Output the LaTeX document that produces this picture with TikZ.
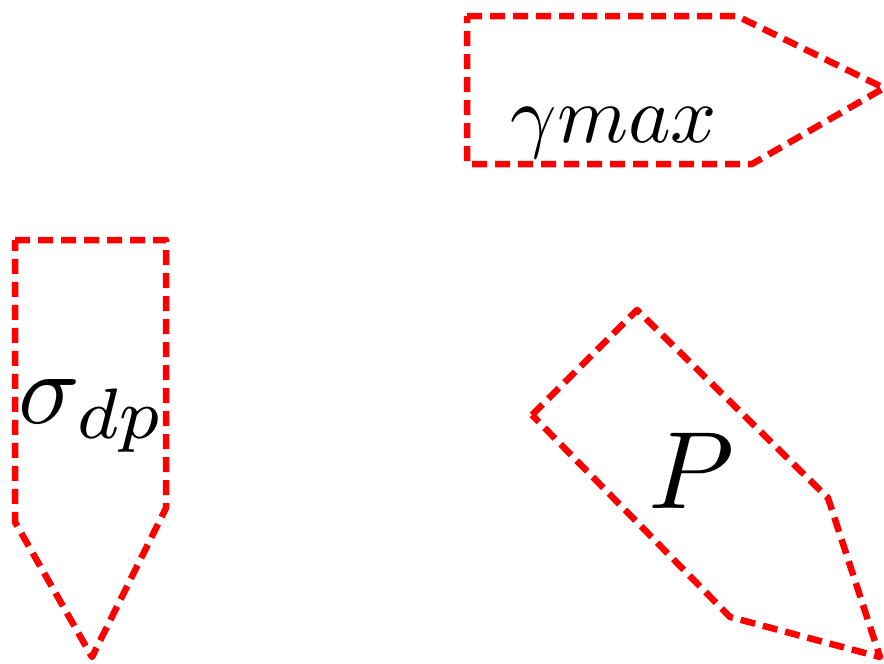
\documentclass[tikz,border=0pt]{standalone}
\begin{document}
\begin{tikzpicture}[x=1pt,y=-1pt,
  outline/.style={draw=red,line width=6.5pt,dash pattern=on 15pt off 8pt,line join=round},
  lbl/.style={inner sep=0pt,anchor=base}]
\useasboundingbox (0,0) rectangle (884,664);
% top right
\draw[outline] (467,16) -- (737,16) -- (884,88) -- (752,164) -- (467,164) -- cycle;
\node[lbl] (gm) at (614,142) {\scalebox{8.1}{$\gamma max$}};
% left
\draw[outline] (15,240) -- (166,240) -- (166,508) -- (92,657) -- (15,522) -- cycle;
\node[lbl,anchor=base west] (sd) at (18,423) {\scalebox{10.2}{$\sigma_{dp}$}};
% bottom right
\draw[outline] (532,415) -- (637,310) -- (828,498) -- (880,657) -- (730,617) -- cycle;
\node[lbl] (p) at (691,508) {\scalebox{11}{$P$}};
\end{tikzpicture}
\end{document}
